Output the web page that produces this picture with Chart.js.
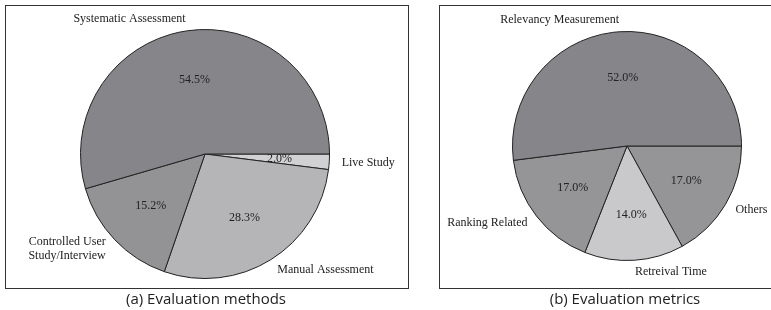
<!DOCTYPE html>
<html>
<head>
<meta charset="utf-8">
<script src="https://cdn.jsdelivr.net/npm/chart.js@4/dist/chart.umd.min.js"></script>
<style>
  body { margin: 0; background: #fff; width: 771px; height: 310px; position: relative; overflow: hidden; }
  .box { position: absolute; border: 1px solid #333; box-sizing: border-box; }
  canvas { position: absolute; }
  .cap { position: absolute; top: 288px; line-height: 20px; font-family: 'Open Sans', sans-serif; font-size: 15px; color: #222; text-align: center; }
</style>
</head>
<body>
<div class="box" style="left:5px;top:5px;width:404px;height:284px"></div>
<div class="box" style="left:439px;top:5px;width:334px;height:284px"></div>
<canvas id="chartMethods" style="left:5px;top:5px"></canvas>
<canvas id="chartMetrics" style="left:439px;top:5px"></canvas>
<div class="cap" style="left:106px;width:200px">(a) Evaluation methods</div>
<div class="cap" style="left:525px;width:200px">(b) Evaluation metrics</div>
<script>
// listed clockwise starting from 3 o'clock
const methodLabels = ['Live Study', 'Manual Assessment', ['Controlled User', 'Study/Interview'], 'Systematic Assessment'];
const methodValues = [2.0, 28.3, 15.2, 54.5];
const methodColors = ['#d1d1d3', '#b5b5b8', '#939396', '#86868a'];

const metricLabels = ['Others', 'Retreival Time', 'Ranking Related', 'Relevancy Measurement'];
const metricValues = [17.0, 14.0, 17.0, 52.0];
const metricColors = ['#959598', '#c9c9cb', '#959598', '#86868a'];

// matplotlib-style labels: name outside at 1.1r, percent inside at 0.6r
const pieLabels = {
    id: 'pieLabels',
    afterDatasetsDraw(chart) {
        const ctx = chart.ctx;
        const meta = chart.getDatasetMeta(0);
        const vals = chart.data.datasets[0].data;
        ctx.save();
        ctx.fillStyle = '#222';
        ctx.font = '12px "Liberation Serif", serif';
        meta.data.forEach((arc, i) => {
            const mid = (arc.startAngle + arc.endAngle) / 2;
            const r = arc.outerRadius;
            const c = Math.cos(mid), s = Math.sin(mid);
            ctx.textAlign = 'center';
            ctx.textBaseline = 'middle';
            ctx.fillText(vals[i].toFixed(1) + '%', arc.x + c * r * 0.6, arc.y + s * r * 0.6);
            const lines = [].concat(chart.data.labels[i]);
            const lh = 14;
            const x = arc.x + c * r * 1.1;
            const y0 = arc.y + s * r * 1.1 - (lines.length - 1) * lh / 2;
            ctx.textAlign = c >= 0 ? 'left' : 'right';
            lines.forEach((t, j) => ctx.fillText(t, x, y0 + j * lh));
        });
        ctx.restore();
    }
};

function makePie(id, w, h, labels, values, colors, padding) {
    const canvas = document.getElementById(id);
    canvas.width = w;
    canvas.height = h;
    canvas.style.width = w + 'px';
    canvas.style.height = h + 'px';
    return new Chart(canvas, {
        type: 'pie',
        data: {
            labels,
            datasets: [{ data: values, backgroundColor: colors, borderColor: '#222', borderWidth: 1 }]
        },
        options: {
            responsive: false, animation: false,
            rotation: 90,
            layout: { padding },
            plugins: { legend: { display: false }, tooltip: { enabled: false } }
        },
        plugins: [pieLabels]
    });
}

makePie('chartMethods', 404, 284, methodLabels, methodValues, methodColors,
    { left: 75, right: 79, top: 24, bottom: 10 });
makePie('chartMetrics', 334, 284, metricLabels, metricValues, metricColors,
    { left: 73, right: 31, top: 26, bottom: 28 });
</script>
</body>
</html>
